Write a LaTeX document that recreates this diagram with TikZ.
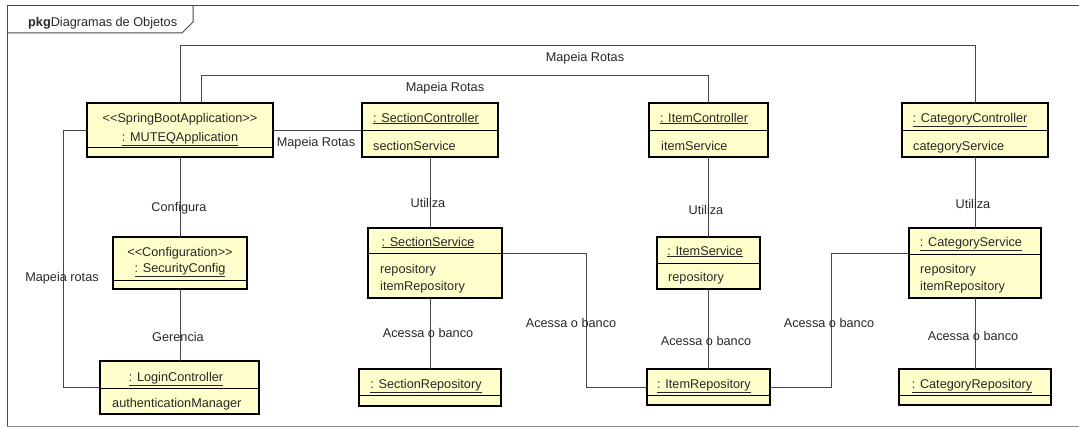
\documentclass[tikz,border=0pt]{standalone}
\usepackage{fontspec}
\setmainfont{Liberation Sans}
\definecolor{boxfill}{RGB}{255,255,204}
\definecolor{txt}{RGB}{40,40,40}
\definecolor{lnc}{RGB}{70,70,70}
\tikzset{
  objbox/.style={draw=black, line width=2.3pt, fill=boxfill, anchor=north west, inner sep=0pt, outer sep=0pt},
  conn/.style={draw=lnc, line width=1pt},
  sepline/.style={draw=black, line width=1pt},
  lbl/.style={text=txt, font=\fontsize{12.7}{14}\selectfont, inner sep=0pt},
  ttl/.style={lbl, anchor=base},
  attr/.style={lbl, anchor=base west},
}
\newcommand\objnode[6]{%
  \node[objbox, minimum width=#4pt, minimum height=#5pt] (#1) at (#2,#3) {};
  \draw[sepline] (#2,#6) -- ++(#4,0);}
\begin{document}
\begin{tikzpicture}[x=1pt,y=-1pt]
\useasboundingbox (0,0) rectangle (1079,428);
% frame
\draw[draw=lnc, line width=1pt] (7,426.5) -- (7,6) -- (1090,6);
\draw[draw=lnc!60, line width=0.8pt] (7,426.5) -- (1090,426.5);
\draw[draw=lnc, line width=1pt] (7,33) -- (182,33) -- (193,22) -- (193,6);
\node[lbl, anchor=base west] (pkg) at (28,27) {\textbf{pkg}Diagramas de Objetos};

% coordinates for routing
\coordinate (y46) at (0,46);
\coordinate (y76) at (0,76);
\coordinate (y253) at (0,253);
\coordinate (x63) at (63,0);
\coordinate (x586) at (586,0);
\coordinate (x831) at (831,0);

% boxes
\objnode{mut}{87}{103}{186}{54}{147}
\objnode{sc}{362}{103}{136}{54}{130}
\objnode{ic}{649}{103}{119}{54}{130}
\objnode{cc}{902}{103}{146}{54}{130}
\objnode{secc}{113}{237}{134}{52}{280}
\objnode{login}{100}{361}{159}{53}{388}
\objnode{ss}{368}{228}{134}{70}{253}
\objnode{is}{657}{237}{103}{52}{263}
\objnode{cs}{909}{228}{132}{70}{254}
\objnode{sr}{359}{369}{142}{37}{395}
\objnode{ir}{647}{369}{123}{36}{395}
\objnode{cr}{899}{369}{152}{36}{395}

% connectors
\draw[conn] (mut.north) |- (cc.north |- y46) -- (cc.north);
\draw[conn] ([xshift=21pt]mut.north) |- (ic.north |- y76) -- (ic.north);
\draw[conn] (mut.east) -- (sc.west);
\draw[conn] (mut.south) -- (secc.north);
\draw[conn] (mut.west) -| (x63 |- login.west) -- (login.west);
\draw[conn] (secc.south) -- (secc.south |- login.north);
\draw[conn] (sc.south) -- (sc.south |- ss.north);
\draw[conn] (sr.north) -- (sr.north |- ss.south);
\draw[conn] (ss.east |- y253) -| (x586 |- ir.west) -- (ir.west);
\draw[conn] (ic.south) -- (is.north);
\draw[conn] (is.south) -- (ir.north);
\draw[conn] (ir.east) -| (x831 |- y253) -- (cs.west |- y253);
\draw[conn] (cc.south) -- (cs.north);
\draw[conn] (cs.south) -- (cr.north);

% box texts
\node[ttl] (mutA) at (180,122) {<{}<SpringBootApplication>{}>};
\node[ttl] (mutB) at (180,141) {\underline{: MUTEQApplication}};
\node[ttl] (scT) at (426,122) {\underline{: SectionController}};
\node[attr] (scA) at (373,150) {sectionService};
\node[ttl] (icT) at (704,122) {\underline{: ItemController}};
\node[attr] (icA) at (661,150) {itemService};
\node[ttl] (ccT) at (970,122) {\underline{: CategoryController}};
\node[attr] (ccA) at (913,150) {categoryService};
\node[ttl] (seccA) at (180,256) {<{}<Configuration>{}>};
\node[ttl] (seccB) at (180,272) {\underline{: SecurityConfig}};
\node[ttl] (loginT) at (176,381) {\underline{: LoginController}};
\node[attr] (loginA) at (112,407) {authenticationManager};
\node[ttl] (ssT) at (428,246) {\underline{: SectionService}};
\node[attr] (ssA) at (380,273) {repository};
\node[attr] (ssB) at (380,290) {itemRepository};
\node[ttl] (isT) at (705,255) {\underline{: ItemService}};
\node[attr] (isA) at (668,281) {repository};
\node[ttl] (csT) at (971,246) {\underline{: CategoryService}};
\node[attr] (csA) at (920,273) {repository};
\node[attr] (csB) at (920,290) {itemRepository};
\node[ttl] (srT) at (426,388) {\underline{: SectionRepository}};
\node[ttl] (irT) at (704,388) {\underline{: ItemRepository}};
\node[ttl] (crT) at (972,388) {\underline{: CategoryRepository}};

% connector labels
\node[lbl] (l1) at (585,58) {Mapeia Rotas};
\node[lbl] (l2) at (445,88) {Mapeia Rotas};
\node[lbl] (l3) at (316,143) {Mapeia Rotas};
\node[lbl] (l4) at (179,208) {Configura};
\node[lbl] (l5) at (62,278) {Mapeia rotas};
\node[lbl] (l6) at (178,337) {Gerencia};
\node[lbl] (l7) at (428,203) {Utiliza};
\node[lbl] (l8) at (428,333) {Acessa o banco};
\node[lbl] (l9) at (571,323) {Acessa o banco};
\node[lbl] (l10) at (706,210) {Utiliza};
\node[lbl] (l11) at (706,341) {Acessa o banco};
\node[lbl] (l12) at (829,323) {Acessa o banco};
\node[lbl] (l13) at (973,204) {Utiliza};
\node[lbl] (l14) at (973,336) {Acessa o banco};
\end{tikzpicture}
\end{document}
